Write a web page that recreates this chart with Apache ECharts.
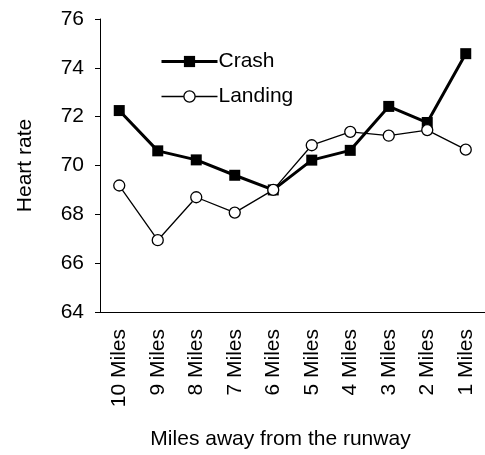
<!DOCTYPE html>
<html>
<head>
<meta charset="utf-8">
<script src="https://cdn.jsdelivr.net/npm/echarts@6/dist/echarts.min.js"></script>
<style>
html,body{margin:0;padding:0;background:#fff;}
#chart{width:485px;height:455px;}
</style>
</head>
<body>
<div id="chart"></div>
<script>
var categories = ['10 Miles','9 Miles','8 Miles','7 Miles','6 Miles','5 Miles','4 Miles','3 Miles','2 Miles','1 Miles'];
var crash = [72.25, 70.6, 70.23, 69.6, 69.0, 70.22, 70.62, 72.42, 71.76, 74.58];
var landing = [69.18, 66.94, 68.7, 68.07, 69.0, 70.83, 71.38, 71.22, 71.45, 70.65];
var yTicks = {min: 64, max: 76, interval: 2};
var FONT = 'Liberation Sans';
var FS = 21;

var chart = echarts.init(document.getElementById('chart'), null, {renderer: 'canvas'});
chart.setOption({
  animation: false,
  backgroundColor: '#fff',
  textStyle: {fontFamily: FONT, color: '#000'},
  grid: {left: 100, width: 393, top: 19, height: 297, containLabel: false},
  legend: {
    orient: 'vertical',
    left: 155,
    top: 46,
    itemWidth: 56,
    itemHeight: 14,
    itemGap: 14,
    textStyle: {fontFamily: FONT, fontSize: FS, color: '#000', padding: [0,0,0,-4]},
    data: [
      {name: 'Crash', lineStyle: {width: 3, color: '#000'}, itemStyle: {color: '#000'}},
      {name: 'Landing', lineStyle: {width: 1.3, color: '#000'}, itemStyle: {color: '#fff', borderColor: '#000', borderWidth: 1.3}}
    ]
  },
  xAxis: {
    type: 'category',
    data: categories,
    boundaryGap: true,
    axisLine: {lineStyle: {color: '#000', width: 1}},
    axisTick: {show: false},
    axisLabel: {rotate: 90, margin: 17, fontFamily: FONT, fontSize: FS, color: '#000', interval: 0},
    name: 'Miles away from the runway',
    nameLocation: 'middle',
    nameGap: 117,
    nameTextStyle: {fontFamily: FONT, fontSize: FS, color: '#000', padding: [0, 24, 0, 0]}
  },
  yAxis: {
    type: 'value',
    min: yTicks.min,
    max: yTicks.max,
    interval: yTicks.interval,
    axisLine: {show: true, lineStyle: {color: '#000', width: 1}},
    axisTick: {show: true, length: 5, lineStyle: {color: '#000'}},
    splitLine: {show: false},
    axisLabel: {margin: 16, fontFamily: FONT, fontSize: FS, color: '#000'},
    name: 'Heart rate',
    nameLocation: 'middle',
    nameGap: 64,
    nameTextStyle: {fontFamily: FONT, fontSize: FS, color: '#000'}
  },
  series: [
    {
      name: 'Crash',
      type: 'line',
      data: crash,
      symbol: 'rect',
      symbolSize: 11,
      lineStyle: {color: '#000', width: 3},
      itemStyle: {color: '#000', borderColor: '#000', borderWidth: 0},
      z: 3
    },
    {
      name: 'Landing',
      type: 'line',
      data: landing,
      symbol: 'circle',
      symbolSize: 11,
      showAllSymbol: true,
      lineStyle: {color: '#000', width: 1.3},
      itemStyle: {color: '#fff', borderColor: '#000', borderWidth: 1.3},
      z: 4
    }
  ]
});
</script>
</body>
</html>
